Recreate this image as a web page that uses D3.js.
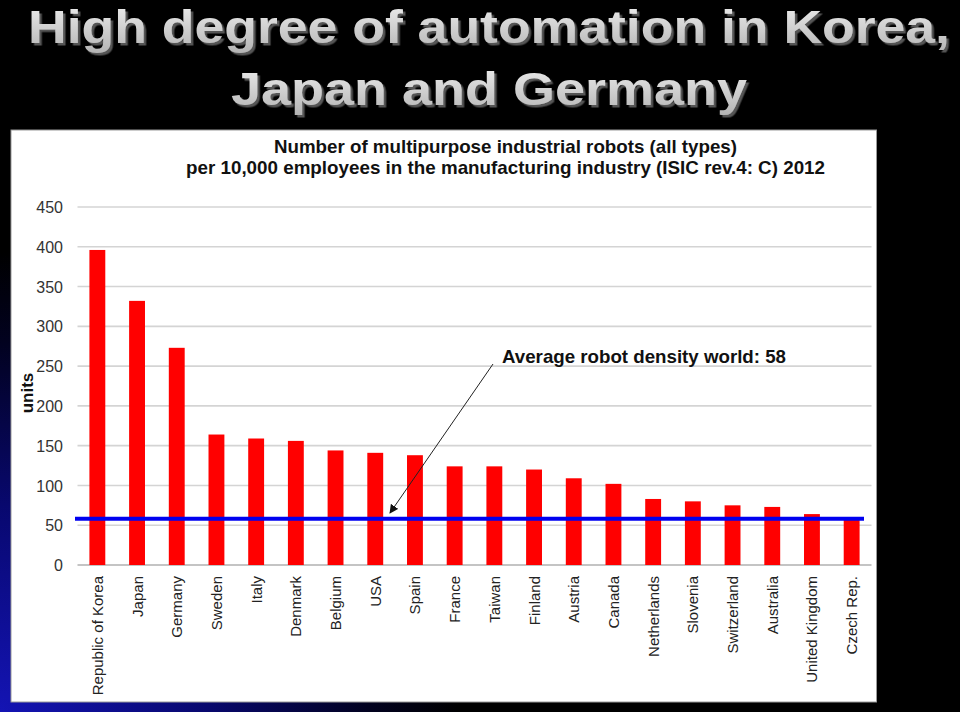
<!DOCTYPE html>
<html>
<head>
<meta charset="utf-8">
<script src="https://cdn.jsdelivr.net/npm/d3@7"></script>
<style>
html,body{margin:0;padding:0;background:#000;}
svg{display:block;}
</style>
</head>
<body>
<svg id="chart" width="960" height="712"></svg>
<script>
const countries = ["Republic of Korea","Japan","Germany","Sweden","Italy","Denmark","Belgium","USA","Spain","France","Taiwan","Finland","Austria","Canada","Netherlands","Slovenia","Switzerland","Australia","United Kingdom","Czech Rep."];
const robotDensity = [396,332,273,164,159,156,144,141,138,124,124,120,109,102,83,80,75,73,64,58];
const yTicks = [0,50,100,150,200,250,300,350,400,450];
const worldAverage = 58;
const titleLines = ["High degree of automation in Korea,","Japan and Germany"];
const chartTitleLines = ["Number of multipurpose industrial robots (all types)","per 10,000 employees in the manufacturing industry (ISIC rev.4: C) 2012"];
const annotationText = "Average robot density world: 58";
const yLabel = "units";

const FONT = "Liberation Sans, Arial, sans-serif";
const svg = d3.select("#chart");
const defs = svg.append("defs");

const bg = defs.append("radialGradient").attr("id","bgGrad")
  .attr("gradientUnits","userSpaceOnUse").attr("cx",0).attr("cy",712).attr("r",460);
bg.append("stop").attr("offset","0").attr("stop-color","#1414b4");
bg.append("stop").attr("offset","0.45").attr("stop-color","#08086e");
bg.append("stop").attr("offset","0.8").attr("stop-color","#020220");
bg.append("stop").attr("offset","1").attr("stop-color","#000000");
svg.append("rect").attr("width",960).attr("height",712).attr("fill","#000");
svg.append("rect").attr("width",960).attr("height",712).attr("fill","url(#bgGrad)");

const tg = defs.append("linearGradient").attr("id","titleGrad").attr("x1",0).attr("y1",0).attr("x2",0).attr("y2",1);
tg.append("stop").attr("offset","0").attr("stop-color","#f0f0f0");
tg.append("stop").attr("offset","1").attr("stop-color","#b4b4b4");

const shadow = defs.append("filter").attr("id","shadow").attr("x","-5%").attr("y","-20%").attr("width","110%").attr("height","140%");
shadow.append("feDropShadow").attr("dx",2.5).attr("dy",2.5).attr("stdDeviation",0.6)
  .attr("flood-color","#555").attr("flood-opacity",1);

// main title
const titleY = [43, 105];
const titleW = [922, 516];
titleLines.forEach((t,i)=>{
  svg.append("text").text(t)
    .attr("x",489).attr("y",titleY[i])
    .attr("text-anchor","middle")
    .attr("font-family",FONT)
    .attr("font-weight","bold").attr("font-size",47)
    .attr("textLength",titleW[i]).attr("lengthAdjust","spacingAndGlyphs")
    .attr("fill","url(#titleGrad)").attr("filter","url(#shadow)");
});

// white panel
svg.append("rect").attr("x",11).attr("y",130).attr("width",865.5).attr("height",572)
  .attr("fill","#fff").attr("stroke","#9a9a9a").attr("stroke-width",1);

// chart title
const ctW = [463, 639];
chartTitleLines.forEach((t,i)=>{
  svg.append("text").text(t).attr("x",505.5).attr("y",153+i*21)
    .attr("text-anchor","middle").attr("font-family",FONT)
    .attr("font-weight","bold").attr("font-size",18.5).attr("fill","#111")
    .attr("textLength",ctW[i]).attr("lengthAdjust","spacingAndGlyphs");
});

const x = d3.scaleBand().domain(countries).range([77.5,871.5]).paddingInner(0.6).paddingOuter(0.3);
const y = d3.scaleLinear().domain([0,450]).range([565,207]);

// gridlines
svg.append("g").selectAll("line").data(yTicks).join("line")
  .attr("x1",77.5).attr("x2",871.5)
  .attr("y1",d=>y(d)).attr("y2",d=>y(d))
  .attr("stroke",d=>d===0?"#b0b0b0":"#d4d4d4").attr("stroke-width",1.6);

// y axis
const yAxis = d3.axisLeft(y).tickValues(yTicks).tickSize(0).tickPadding(0);
const yg = svg.append("g").attr("transform","translate(63,0)").call(yAxis);
yg.select(".domain").remove();
yg.selectAll("text").attr("font-family",FONT)
  .attr("font-size",16).attr("fill","#333").attr("dy","0.35em");

svg.append("text").text(yLabel)
  .attr("transform","translate(33,393) rotate(-90)")
  .attr("text-anchor","middle").attr("font-family",FONT)
  .attr("font-weight","bold").attr("font-size",17).attr("fill","#111");

// bars
svg.append("g").selectAll("rect").data(countries).join("rect")
  .attr("x",d=>x(d)).attr("width",x.bandwidth())
  .attr("y",(d,i)=>y(robotDensity[i]))
  .attr("height",(d,i)=>y(0)-y(robotDensity[i]))
  .attr("fill","#ff0000");

// x axis
const xAxis = d3.axisBottom(x).tickSize(0).tickPadding(0);
const xg = svg.append("g").attr("transform","translate(0,565)").call(xAxis);
xg.select(".domain").remove();
xg.selectAll("text")
  .attr("font-family",FONT).attr("font-size",15).attr("fill","#222")
  .attr("text-anchor","end").attr("dy",null).attr("y",0).attr("x",0)
  .attr("transform","translate(5.5,11) rotate(-90)");

// average line
svg.append("line").attr("x1",75).attr("x2",864)
  .attr("y1",y(worldAverage)).attr("y2",y(worldAverage))
  .attr("stroke","#0000f0").attr("stroke-width",4);

// annotation
defs.append("marker").attr("id","arrow").attr("viewBox","0 0 10 10").attr("refX",9).attr("refY",5)
  .attr("markerWidth",9).attr("markerHeight",9).attr("markerUnits","userSpaceOnUse").attr("orient","auto")
  .append("path").attr("d","M0,0 L10,5 L0,10 z").attr("fill","#111");
svg.append("line").attr("x1",493).attr("y1",364).attr("x2",390).attr("y2",513)
  .attr("stroke","#222").attr("stroke-width",1).attr("marker-end","url(#arrow)");
svg.append("text").text(annotationText).attr("x",502).attr("y",363)
  .attr("font-family",FONT).attr("font-weight","bold")
  .attr("font-size",18.5).attr("fill","#111")
  .attr("textLength",284).attr("lengthAdjust","spacingAndGlyphs");
</script>
</body>
</html>
